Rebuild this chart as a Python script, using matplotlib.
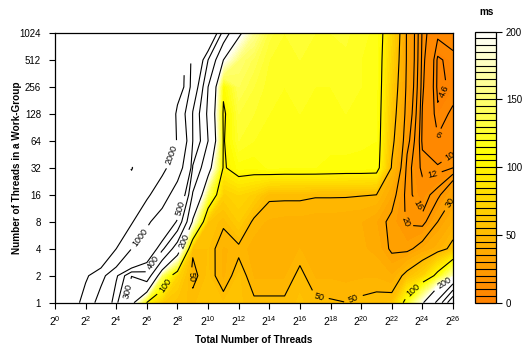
import numpy as np
import matplotlib
matplotlib.use('Agg')
import matplotlib.pyplot as plt
from matplotlib.colors import LinearSegmentedColormap

plt.rcParams['font.family'] = ['Liberation Sans', 'DejaVu Sans']
plt.rcParams['mathtext.fontset'] = 'custom'
plt.rcParams['mathtext.rm'] = 'Liberation Sans'
plt.rcParams['mathtext.it'] = 'Liberation Sans:italic'

na = np.nan
# log2 of total threads (columns) and log2 of work-group size (rows)
total_exp = list(range(27))
wg_exp = list(range(11))

# run time in ms, one list per work-group size, nan where wg > total
ms_wg1 = [6000, 2825, 1450, 700, 420, 220, 98, 65, 57, 53.5, 60, 55, 56, 52, 52, 52, 56, 52, 51, 50.1, 52, 54, 56, 115, 190, 320, 600]
ms_wg2 = [na, 6000, 2200, 1200, 520, 302, 357, 140, 73, 47, 56, 43, 56, 44, 44, 44, 53, 44, 44, 43, 44, 44, 40, 55, 70, 110, 170]
ms_wg4 = [na, na, 9000, 4000, 2000, 1000, 650, 420, 240, 51.5, 55, 44, 47, 43, 42, 42, 45, 42, 42, 41, 41, 38, 28, 27, 35, 42, 55]
ms_wg8 = [na, na, na, 8000, 4000, 2100, 1100, 700, 480, 190, 60, 52, 65, 47, 44, 43, 43, 42, 42, 41, 40, 35, 27, 19, 17, 30, 40]
ms_wg16 = [na, na, na, na, 9000, 5000, 2200, 1300, 700, 290, 140, 68, 75, 68, 52, 52, 52, 51, 51, 51, 50.5, 50, 35, 17, 14, 18, 29]
ms_wg32 = [na, na, na, na, na, 1700, 6000, 2300, 1300, 390, 226, 97, 112, 111, 116, 115, 115, 115, 114, 113, 113, 112, 48, 18, 11, 10.5, 12]
ms_wg64 = [na, na, na, na, na, na, 12000, 5000, 1800, 500, 300, 98, 125, 120, 118, 117, 118, 117, 116, 117, 116, 115, 55, 22, 9.5, 6.3, 8]
ms_wg128 = [na, na, na, na, na, na, na, 6000, 1500, 490, 280, 95, 130, 125, 120, 118, 120, 118, 118, 120, 118, 116, 60, 25, 9.8, 4.9, 6.5]
ms_wg256 = [na, na, na, na, na, na, na, na, 3000, 600, 300, 106, 140, 130, 122, 120, 122, 120, 120, 122, 120, 117, 65, 27, 10.5, 4.2, 4.9]
ms_wg512 = [na, na, na, na, na, na, na, na, na, 700, 400, 200, 150, 138, 125, 122, 125, 122, 122, 124, 120, 117, 70, 28, 11, 4.3, 5.2]
ms_wg1024 = [na, na, na, na, na, na, na, na, na, na, 700, 360, 210, 160, 132, 125, 128, 125, 125, 126, 122, 118, 75, 28, 11.5, 6.5, 7.5]

fill_levels = np.arange(0, 205, 5)
line_levels = [4.6, 6, 10, 12, 16, 20, 30, 50, 100, 200, 300, 400, 500, 1000, 2000]
cbar_ticks = [0, 50, 100, 150, 200]
x_ticks = list(range(0, 27, 2))
y_labels = ['1', '2', '4', '8', '16', '32', '64', '128', '256', '512', '1024']

z = np.array([ms_wg1, ms_wg2, ms_wg4, ms_wg8, ms_wg16, ms_wg32, ms_wg64,
              ms_wg128, ms_wg256, ms_wg512, ms_wg1024], dtype=float)
z = np.ma.masked_invalid(z)
X, Y = np.meshgrid(total_exp, wg_exp)

cmap = LinearSegmentedColormap.from_list(
    'ms', [(0, '#ff8000'), (0.55, '#ffff00'), (1, '#ffffff')])

fig = plt.figure(figsize=(5.3, 3.49), dpi=100)
ax = fig.add_axes([0.1038, 0.1327, 0.7509, 0.7728])
cf = ax.contourf(X, Y, z, levels=fill_levels, cmap=cmap)
cs = ax.contour(X, Y, z, levels=line_levels, colors='black', linewidths=0.8)

# where the labels sit on the lines
label_pos = [(7.63, 5.5), (5.56, 2.41), (8.28, 3.5), (6.4, 1.5), (4.65, 0.45),
             (8.5, 2.26), (7.4, 0.59), (23.6, 0.35), (9.0, 0.95), (17.2, 0.1),
             (19.5, 0.13), (25.5, 0.66), (25.75, 3.75), (22.85, 3.0),
             (23.7, 3.6), (24.7, 4.6), (25.7, 5.5), (24.7, 6.2), (25.6, 7.8)]
ax.clabel(cs, fmt='%g', fontsize=6.5, manual=label_pos, inline=True)

ax.set_xlim(0, 26)
ax.set_ylim(0, 10)
ax.set_xticks(x_ticks)
ax.set_xticklabels(['$2^{%d}$' % e for e in x_ticks])
ax.set_yticks(wg_exp)
ax.set_yticklabels(y_labels)
ax.tick_params(length=4, width=0.8)
ax.tick_params(axis='x', labelsize=7.5, pad=4)
ax.tick_params(axis='y', labelsize=7, pad=6)
for s in ax.spines.values():
    s.set_linewidth(0.9)
ax.set_xlabel('Total Number of Threads', fontsize=7.2, fontweight='bold')
ax.set_ylabel('Number of Threads in a Work-Group', fontsize=7.2, fontweight='bold')
ax.xaxis.set_label_coords(0.5, -0.12)
ax.yaxis.set_label_coords(-0.082, 0.5)

cax = fig.add_axes([0.896, 0.1327, 0.039, 0.7765])
cb = fig.colorbar(cf, cax=cax, drawedges=True, ticks=cbar_ticks)
cb.dividers.set_linewidth(0.8)
cb.outline.set_linewidth(0.9)
cax.tick_params(labelsize=7, length=4, width=0.8)
fig.text(487 / 530, 1 - 12 / 349, 'ms', ha='center', va='center',
         fontsize=7.2, fontweight='bold')

fig.savefig('out.png', dpi=100)
